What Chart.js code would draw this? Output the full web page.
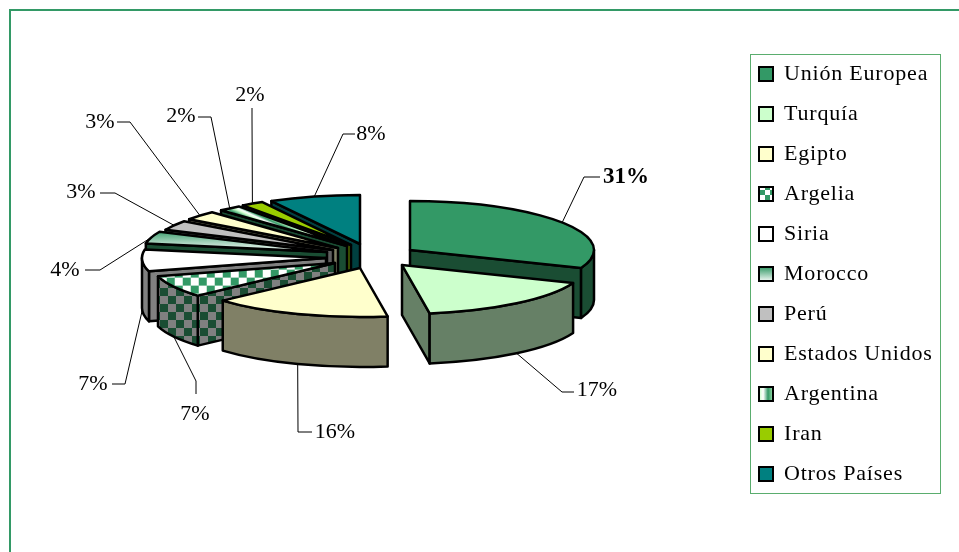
<!DOCTYPE html>
<html>
<head>
<meta charset="utf-8">
<style>
  body { margin: 0; background: #fff; }
  canvas { display: block; }
</style>
<script src="https://cdn.jsdelivr.net/npm/chart.js@4/dist/chart.umd.min.js"></script>
</head>
<body>
<canvas id="pie" width="959" height="552"></canvas>
<script>
const countries = ['Unión Europea', 'Turquía', 'Egipto', 'Argelia', 'Siria', 'Morocco', 'Perú',
  'Estados Unidos', 'Argentina', 'Iran', 'Otros Países'];
const shares = [31, 16.6, 15.8, 7.2, 7.2, 4, 3.2, 3, 2, 2, 8];

// look of the slices
const topColors = ['#339966', '#CCFFCC', '#FFFFCC', '#339966', '#FFFFFF', '#339966', '#C0C0C0',
  '#FFFFCC', '#339966', '#99CC00', '#008080'];
const sideColors = ['#1A4D33', '#668066', '#808066', '#1A4D33', '#808080', '#1A4D33', '#606060',
  '#808066', '#1A4D33', '#4D6600', '#004040'];

// each slice was dragged out of the pie by hand, so x and y are kept apart
const explodeX = [45, 37, -5, -30, -39, -38, -32, -27, -18, -14, -5];
const explodeY = [-5, 10, 13, 8, 3, -3, -5, -7, -9, -10, -11];
const paintOrder = [10, 9, 8, 7, 6, 5, 4, 3, 2, 0, 1];

// leader line elbow and label centre for every slice
const elbowX = [584, 562, 298, 196, 125, 100, 115, 130, 211, 252, 343];
const elbowY = [177, 392, 432, 381, 384, 270, 193, 122, 117, 118, 134];
const labelEndX = [600, 574, 312, 196, 112, 85, 100, 117, 198, 252, 355];
const labelEndY = [177, 392, 432, 394, 384, 270, 193, 122, 117, 108, 134];
const labelX = [626, 597, 335, 195, 93, 65, 81, 100, 181, 250, 371];
const labelY = [177, 390, 432, 414, 384, 270, 192, 122, 116, 95, 134];

const PIE_X = 365, PIE_Y = 255, RADIUS = 184, TILT = 0.266, DEPTH = 50;
const FRAME = '#339966';
const FONT = '"Liberation Serif", "Times New Roman", serif';

function checker(a, b, size) {
  const c = document.createElement('canvas');
  c.width = c.height = size * 2;
  const g = c.getContext('2d');
  g.fillStyle = a;
  g.fillRect(0, 0, size * 2, size * 2);
  g.fillStyle = b;
  g.fillRect(0, 0, size, size);
  g.fillRect(size, size, size, size);
  return g.createPattern(c, 'repeat');
}

function slanted() {
  const c = document.createElement('canvas');
  c.width = c.height = 16;
  const g = c.getContext('2d');
  const grad = g.createLinearGradient(0, 0, 16, 0);
  grad.addColorStop(0, '#339966');
  grad.addColorStop(0.45, '#CCFFCC');
  grad.addColorStop(0.7, '#FFFFFF');
  grad.addColorStop(1, '#339966');
  g.fillStyle = grad;
  g.fillRect(0, 0, 16, 16);
  return g.createPattern(c, 'repeat');
}

const squash = new DOMMatrix().scale(1, 1 / TILT);
const argeliaTop = checker('#FFFFFF', '#339966', 8);
argeliaTop.setTransform(squash);
const argeliaSide = checker('#808080', '#1A4D33', 8);
const argentinaTop = slanted();
argentinaTop.setTransform(new DOMMatrix().rotate(-30).scale(1, 1 / TILT));
const argeliaBox = checker('#FFFFFF', '#339966', 5);
const argentinaBox = slanted();

function topFill(context) {
  const i = context.dataIndex;
  if (i === 3) return argeliaTop;
  if (i === 8) return argentinaTop;
  if (i === 5 && context.chart.chartArea) {
    const area = context.chart.chartArea;
    const cy = (area.top + area.bottom) / 2;
    const grad = context.chart.ctx.createLinearGradient(0, cy - 22 / TILT, 0, cy);
    grad.addColorStop(0, '#339966');
    grad.addColorStop(1, '#FFFFFF');
    return grad;
  }
  return topColors[i];
}

function boxFill(ctx, i) {
  if (i === 3) return argeliaBox;
  if (i === 8) return argentinaBox;
  if (i === 5) {
    const grad = ctx.createLinearGradient(0, 267, 0, 282);
    grad.addColorStop(0, '#339966');
    grad.addColorStop(1, '#FFFFFF');
    return grad;
  }
  return topColors[i];
}

function sideFill(i) {
  return i === 3 ? argeliaSide : sideColors[i];
}

function drawSlice(ctx, arc, i) {
  const x = PIE_X + explodeX[i], y = PIE_Y + explodeY[i];
  const start = arc.startAngle, end = arc.endAngle;
  const px = a => x + Math.cos(a) * RADIUS;
  const py = a => y + Math.sin(a) * RADIUS * TILT;

  ctx.lineWidth = 2.5;
  ctx.lineJoin = 'round';
  ctx.strokeStyle = '#000';
  ctx.fillStyle = sideFill(i);

  function wall(a) {
    ctx.beginPath();
    ctx.moveTo(x, y);
    ctx.lineTo(px(a), py(a));
    ctx.lineTo(px(a), py(a) + DEPTH);
    ctx.lineTo(x, y + DEPTH);
    ctx.closePath();
    ctx.fill();
    ctx.stroke();
  }
  // only the radial faces turned to the viewer show
  if (Math.cos(start) < -0.001) wall(start);
  if (Math.cos(end) > 0.001) wall(end);

  const lo = Math.max(start, 0), hi = Math.min(end, Math.PI);
  if (lo < hi) {
    ctx.beginPath();
    ctx.ellipse(x, y, RADIUS, RADIUS * TILT, 0, lo, hi);
    ctx.ellipse(x, y + DEPTH, RADIUS, RADIUS * TILT, 0, hi, lo, true);
    ctx.closePath();
    ctx.fill();
    ctx.stroke();
  }

  // top face is the library's own arc, flattened
  ctx.save();
  ctx.translate(x, y);
  ctx.scale(1, TILT);
  ctx.translate(-arc.x, -arc.y);
  arc.draw(ctx);
  ctx.restore();

  ctx.beginPath();
  ctx.moveTo(x, y);
  ctx.ellipse(x, y, RADIUS, RADIUS * TILT, 0, start, end);
  ctx.closePath();
  ctx.stroke();
}

function drawLabel(ctx, arc, i) {
  const mid = (arc.startAngle + arc.endAngle) / 2;
  const ax = PIE_X + explodeX[i] + Math.cos(mid) * RADIUS;
  let ay = PIE_Y + explodeY[i] + Math.sin(mid) * RADIUS * TILT;
  if (Math.sin(mid) > 0 || i === 4) ay += DEPTH;

  ctx.strokeStyle = '#000';
  ctx.lineWidth = 1;
  ctx.beginPath();
  ctx.moveTo(ax, ay);
  ctx.lineTo(elbowX[i], elbowY[i]);
  ctx.lineTo(labelEndX[i], labelEndY[i]);
  ctx.stroke();

  ctx.fillStyle = '#000';
  ctx.textAlign = 'center';
  ctx.textBaseline = 'middle';
  ctx.font = i === 0 ? 'bold 23px ' + FONT : '22px ' + FONT;
  ctx.fillText(Math.round(shares[i]) + '%', labelX[i], labelY[i]);
}

const pie3d = {
  id: 'pie3d',
  afterLayout(chart) {
    const legend = chart.legend;
    legend.left = 741;
    legend.top = 45;
    legend.right = 959;
    legend.bottom = 552;
  },
  beforeDraw(chart) {
    const ctx = chart.ctx;
    ctx.save();
    ctx.strokeStyle = FRAME;
    ctx.lineWidth = 2;
    ctx.beginPath();
    ctx.moveTo(10, 552);
    ctx.lineTo(10, 10);
    ctx.lineTo(959, 10);
    ctx.stroke();
    ctx.strokeStyle = '#5AAD6E';
    ctx.lineWidth = 1;
    ctx.strokeRect(750.5, 54.5, 190, 439);
    ctx.restore();
    ctx.letterSpacing = '0.8px';
  },
  beforeDatasetsDraw(chart) {
    const ctx = chart.ctx;
    const arcs = chart.getDatasetMeta(0).data;
    ctx.save();
    ctx.letterSpacing = '0px';
    paintOrder.forEach(i => drawSlice(ctx, arcs[i], i));
    arcs.forEach((arc, i) => drawLabel(ctx, arc, i));
    ctx.restore();
    return false;
  }
};

new Chart(document.getElementById('pie'), {
  type: 'pie',
  data: {
    labels: countries,
    datasets: [{
      data: shares,
      backgroundColor: topFill,
      borderWidth: 0
    }]
  },
  options: {
    responsive: false,
    animation: false,
    radius: RADIUS,
    plugins: {
      tooltip: { enabled: false },
      legend: {
        position: 'right',
        align: 'start',
        labels: {
          boxWidth: 14,
          boxHeight: 14,
          padding: 18,
          color: '#000',
          font: { family: FONT, size: 22 },
          generateLabels(chart) {
            return countries.map((name, i) => ({
              text: name,
              fillStyle: boxFill(chart.ctx, i),
              strokeStyle: '#000',
              lineWidth: 2,
              index: i
            }));
          }
        }
      }
    }
  },
  plugins: [pie3d]
});
</script>
</body>
</html>
